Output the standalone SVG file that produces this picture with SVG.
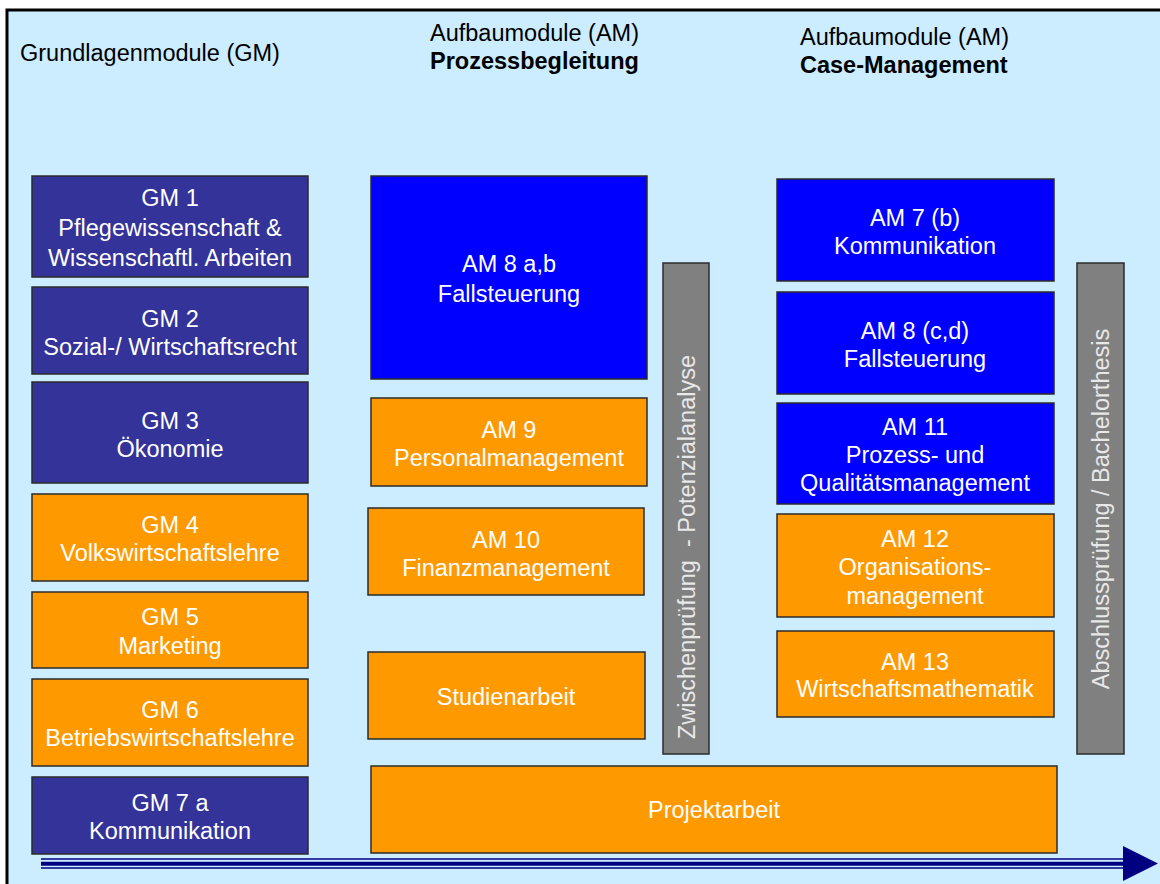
<svg xmlns="http://www.w3.org/2000/svg" width="1160" height="884" viewBox="0 0 1160 884">
<style>
  text { font-family: "Liberation Sans", Arial, sans-serif; font-size: 23.5px; }
  .hd { fill: #000; }
  .b { font-weight: bold; }
  .lbl { fill: #fff; text-anchor: middle; white-space: pre; }
  .box { stroke: #2b2b2b; stroke-width: 1.5; }
  .gm { fill: #333399; }
  .am { fill: #0000ff; }
  .or { fill: #ff9900; }
  .gr { fill: #808080; }
</style>
<rect x="0" y="0" width="1160" height="884" fill="#ffffff"/>
<rect x="7" y="10" width="1153" height="874" fill="#ccecff"/>
<path d="M7,884 V10 H1160" fill="none" stroke="#000" stroke-width="3"/>

<g id="headings">
  <text class="hd" x="20" y="61">Grundlagenmodule (GM)</text>
  <text class="hd" x="430" y="41">Aufbaumodule (AM)</text>
  <text class="hd b" x="430" y="69">Prozessbegleitung</text>
  <text class="hd" x="800" y="45">Aufbaumodule (AM)</text>
  <text class="hd b" x="800" y="73">Case-Management</text>
</g>

<g id="gm1"><rect class="box gm" x="32" y="176" width="276" height="101"/>
  <text class="lbl" x="170" y="206">GM 1</text><text class="lbl" x="170" y="236">Pflegewissenschaft &amp;</text><text class="lbl" x="170" y="266">Wissenschaftl. Arbeiten</text></g>
<g id="gm2"><rect class="box gm" x="32" y="287" width="276" height="87"/>
  <text class="lbl" x="170" y="327">GM 2</text><text class="lbl" x="170" y="355">Sozial-/ Wirtschaftsrecht</text></g>
<g id="gm3"><rect class="box gm" x="32" y="382" width="276" height="101"/>
  <text class="lbl" x="170" y="429">GM 3</text><text class="lbl" x="170" y="457">Ökonomie</text></g>
<g id="gm4"><rect class="box or" x="32" y="494" width="276" height="87"/>
  <text class="lbl" x="170" y="533">GM 4</text><text class="lbl" x="170" y="561">Volkswirtschaftslehre</text></g>
<g id="gm5"><rect class="box or" x="32" y="592" width="276" height="76"/>
  <text class="lbl" x="170" y="625">GM 5</text><text class="lbl" x="170" y="654">Marketing</text></g>
<g id="gm6"><rect class="box or" x="32" y="679" width="276" height="87"/>
  <text class="lbl" x="170" y="718">GM 6</text><text class="lbl" x="170" y="746">Betriebswirtschaftslehre</text></g>
<g id="gm7a"><rect class="box gm" x="32" y="777" width="276" height="77"/>
  <text class="lbl" x="170" y="811">GM 7 a</text><text class="lbl" x="170" y="839">Kommunikation</text></g>

<g id="am8ab"><rect class="box am" x="371" y="176" width="276" height="203"/>
  <text class="lbl" x="509" y="272">AM 8 a,b</text><text class="lbl" x="509" y="302">Fallsteuerung</text></g>
<g id="am9"><rect class="box or" x="371" y="398" width="276" height="88"/>
  <text class="lbl" x="509" y="438">AM 9</text><text class="lbl" x="509" y="466">Personalmanagement</text></g>
<g id="am10"><rect class="box or" x="368" y="508" width="276" height="87"/>
  <text class="lbl" x="506" y="548">AM 10</text><text class="lbl" x="506" y="576">Finanzmanagement</text></g>
<g id="studienarbeit"><rect class="box or" x="368" y="652" width="277" height="87"/>
  <text class="lbl" x="506" y="705">Studienarbeit</text></g>
<g id="zwischenpruefung"><rect class="box gr" x="663" y="263" width="46" height="491"/>
  <text class="lbl" x="695" y="547" transform="rotate(-90 695 547)" style="fill:#e8e8e8">Zwischenprüfung  - Potenzialanalyse</text></g>
<g id="projektarbeit"><rect class="box or" x="371" y="766" width="686" height="87"/>
  <text class="lbl" x="714" y="818">Projektarbeit</text></g>

<g id="am7b"><rect class="box am" x="777" y="179" width="277" height="102"/>
  <text class="lbl" x="915" y="226">AM 7 (b)</text><text class="lbl" x="915" y="254">Kommunikation</text></g>
<g id="am8cd"><rect class="box am" x="777" y="292" width="277" height="102"/>
  <text class="lbl" x="915" y="339">AM 8 (c,d)</text><text class="lbl" x="915" y="367">Fallsteuerung</text></g>
<g id="am11"><rect class="box am" x="777" y="403" width="277" height="101"/>
  <text class="lbl" x="915" y="435">AM 11</text><text class="lbl" x="915" y="463">Prozess- und</text><text class="lbl" x="915" y="491">Qualitätsmanagement</text></g>
<g id="am12"><rect class="box or" x="777" y="514" width="277" height="103"/>
  <text class="lbl" x="915" y="547">AM 12</text><text class="lbl" x="915" y="575">Organisations-</text><text class="lbl" x="915" y="604">management</text></g>
<g id="am13"><rect class="box or" x="777" y="631" width="277" height="86"/>
  <text class="lbl" x="915" y="670">AM 13</text><text class="lbl" x="915" y="697">Wirtschaftsmathematik</text></g>
<g id="abschluss"><rect class="box gr" x="1077" y="263" width="47" height="491"/>
  <text class="lbl" x="1109" y="509" transform="rotate(-90 1109 509)" style="fill:#e8e8e8">Abschlussprüfung / Bachelorthesis</text></g>

<g id="connectors">
  <line x1="41" y1="859" x2="1126" y2="859" stroke="#000080" stroke-width="1.3"/>
  <line x1="41" y1="863.7" x2="1126" y2="863.7" stroke="#000080" stroke-width="4"/>
  <line x1="41" y1="868" x2="1126" y2="868" stroke="#000080" stroke-width="1.3"/>
  <polygon points="1123,846 1158,863.5 1123,881" fill="#000080"/>
</g>
</svg>
